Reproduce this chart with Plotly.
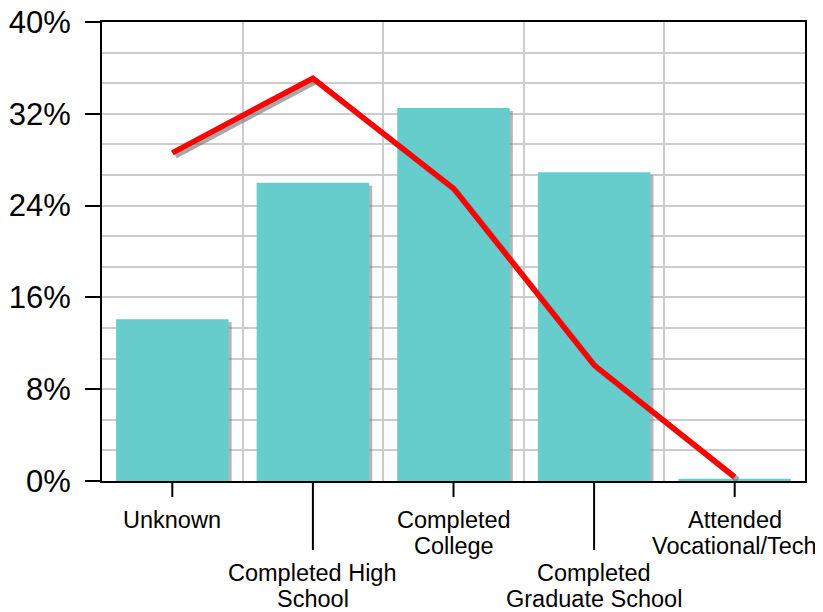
import plotly.graph_objects as go

categories = ["Unknown", "Completed High School", "Completed College",
              "Completed Graduate School", "Attended Vocational/Tech"]
label_lines = [["Unknown"], ["Completed High", "School"], ["Completed", "College"],
               ["Completed", "Graduate School"], ["Attended", "Vocational/Tech"]]
bar_values = [14.1, 26.0, 32.5, 26.9, 0.2]
line_values = [28.6, 35.1, 25.5, 10.1, 0.35]
y_ticks = [0, 8, 16, 24, 32, 40]
y_tick_text = ["0%", "8%", "16%", "24%", "32%", "40%"]

FONT = "Liberation Sans, Arial, sans-serif"
PLOT_H = 459.0
xs = list(range(len(categories)))
dx_sh = 0.022   # shadow offset in category units (~3px)
dy_sh = 0.26    # shadow offset in % units (~3px)

fig = go.Figure()

# bar shadows
fig.add_trace(go.Bar(
    x=xs, y=[max(v - dy_sh, 0) for v in bar_values], width=0.8,
    offset=-0.4 + dx_sh, marker=dict(color="rgba(120,120,120,0.55)", line=dict(width=0)),
    hoverinfo="skip", showlegend=False))
# bars
fig.add_trace(go.Bar(
    x=xs, y=bar_values, width=0.8, offset=-0.4,
    marker=dict(color="#66cccc", line=dict(width=0)), showlegend=False))
# line shadow
fig.add_trace(go.Scatter(
    x=[x + dx_sh for x in xs], y=[v - dy_sh for v in line_values], mode="lines",
    line=dict(color="rgba(110,110,110,0.6)", width=5.5), hoverinfo="skip", showlegend=False))
# line
fig.add_trace(go.Scatter(
    x=xs, y=line_values, mode="lines",
    line=dict(color="#ff0000", width=5.5), showlegend=False))

# x ticks (alternating lengths) and staggered labels
shapes = []
annotations = []
for i, lines in enumerate(label_lines):
    long_tick = (i % 2 == 1)
    tick_len = 69 if long_tick else 16
    shapes.append(dict(type="line", xref="x", yref="paper", x0=i, x1=i,
                       y0=0, y1=-tick_len / PLOT_H, line=dict(color="black", width=2)))
    first_y = 573 if long_tick else 520
    for j, txt in enumerate(lines):
        py = first_y + 26 * j
        annotations.append(dict(text=txt, xref="x", yref="paper", x=i,
                                y=-(py - 481) / PLOT_H, xanchor="center", yanchor="middle",
                                showarrow=False, font=dict(family=FONT, size=23.5, color="black")))

# page body has an 8px margin, so the figure is sized/positioned to compensate
fig.update_layout(
    width=815, height=604,
    margin=dict(l=94, r=18, t=14, b=131, autoexpand=False),
    paper_bgcolor="white", plot_bgcolor="white",
    barmode="overlay", bargap=0.2,
    shapes=shapes, annotations=annotations,
    font=dict(family=FONT, color="black"),
)
fig.update_xaxes(
    range=[-0.5, 4.5], tickvals=[0.5, 1.5, 2.5, 3.5], showticklabels=False, ticks="",
    showgrid=True, gridcolor="#cccccc", gridwidth=2, zeroline=False, automargin=False,
    showline=True, linecolor="black", linewidth=2, mirror=True)
fig.update_yaxes(
    range=[0, 40], tickvals=y_ticks, ticktext=y_tick_text, automargin=False,
    ticklabeloverflow="allow",
    ticks="outside", ticklen=15, tickwidth=2, tickcolor="black", ticklabelstandoff=8,
    tickfont=dict(family=FONT, size=31, color="black"),
    showgrid=True, gridcolor="#cccccc", gridwidth=2, zeroline=False,
    minor=dict(dtick=8 / 3, tick0=0, showgrid=True, gridcolor="#cccccc", gridwidth=2, ticks=""),
    showline=True, linecolor="black", linewidth=2, mirror=True)

fig.write_html("out.html")
